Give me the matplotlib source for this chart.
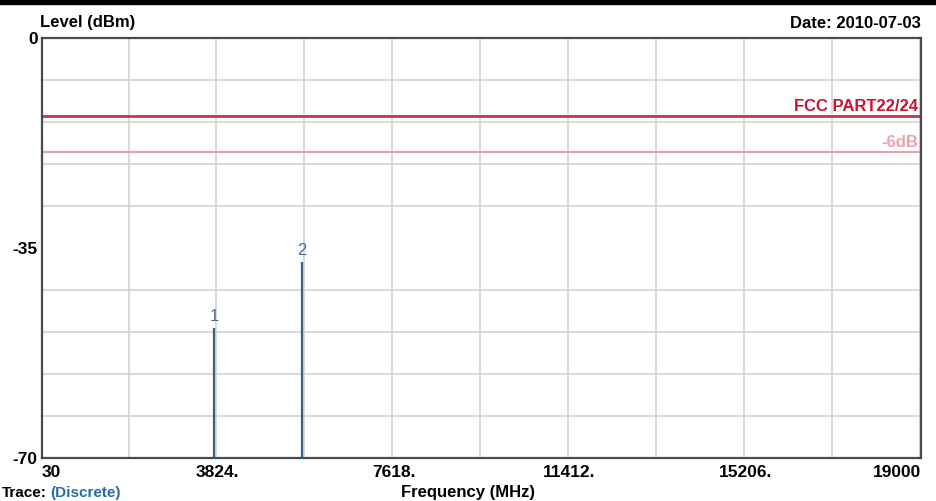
import matplotlib.pyplot as plt
from matplotlib.ticker import MultipleLocator

# --- данные ---
x_min, x_max = 30, 19000
y_min, y_max = -70, 0
x_tick_labels = ['30', '3824.', '7618.', '11412.', '15206.', '19000']
y_tick_labels = ['-70', '-35', '0']

peak_freq = [3740, 5640]      # MHz
peak_level = [-48.3, -37.3]   # dBm
peak_names = ['1', '2']

limit_level = -13.0           # FCC PART22/24
margin_level = -19.0          # -6dB

plt.rcParams['font.family'] = ['Liberation Sans', 'DejaVu Sans']

fig = plt.figure(figsize=(9.37, 5.01), dpi=100)
ax = fig.add_axes([42 / 937, 43 / 501, 879 / 937, 420 / 501])

ax.set_xlim(x_min, x_max)
ax.set_ylim(y_min, y_max)

# сетка
ax.xaxis.set_minor_locator(MultipleLocator((x_max - x_min) / 10))
ax.yaxis.set_minor_locator(MultipleLocator(7))
ax.grid(which='minor', color='#d2d2d2', lw=1.2)
ax.set_axisbelow(True)

x_ticks = [x_min + i * (x_max - x_min) / 5 for i in range(6)]
ax.set_xticks(x_ticks)
ax.set_xticklabels(x_tick_labels)
ax.set_yticks([y_min, -35, y_max])
ax.set_yticklabels(y_tick_labels)
ax.tick_params(which='both', length=0)
ax.tick_params(labelsize=12.5, pad=5)
ax.tick_params(axis='y', pad=3)
for lab in ax.get_xticklabels() + ax.get_yticklabels():
    lab.set_fontweight('bold')
for i, lab in enumerate(ax.get_xticklabels()):
    if i == 0:
        lab.set_horizontalalignment('left')
    elif i == len(x_tick_labels) - 1:
        lab.set_horizontalalignment('right')

for s in ax.spines.values():
    s.set_color('#4a4a4a')
    s.set_linewidth(1.6)

# линии лимитов
ax.axhline(limit_level, color='#c0394e', lw=2.0)
ax.axhline(margin_level, color='#eaa0ae', lw=1.5)
ax.text(x_max - 60, limit_level + 0.4, 'FCC PART22/24', color='#cc1133',
        fontsize=12, fontweight='bold', ha='right', va='bottom')
ax.text(x_max - 60, margin_level + 0.4, '-6dB', color='#f0a0ae',
        fontsize=12, fontweight='bold', ha='right', va='bottom')

# пики
ax.vlines(peak_freq, y_min, peak_level, color='#3f5f80', lw=1.6)
for f, lv, nm in zip(peak_freq, peak_level, peak_names):
    ax.text(f, lv + 0.6, nm, color='#4a6a8a', fontsize=12,
            ha='center', va='bottom')

# подписи
fig.text(40 / 937, 1 - 23 / 501, 'Level (dBm)', fontsize=12,
         fontweight='bold', ha='left', va='center')
fig.text(921 / 937, 1 - 23 / 501, 'Date: 2010-07-03', fontsize=12,
         fontweight='bold', ha='right', va='center')
fig.text(0.5, 1 - 492 / 501, 'Frequency (MHz)', fontsize=12,
         fontweight='bold', ha='center', va='center')
fig.text(2 / 937, 1 / 501, 'Trace:', fontsize=11, fontweight='bold',
         ha='left', va='bottom')
fig.text(50 / 937, 1 / 501, '(Discrete)', fontsize=11, fontweight='bold',
         color='#2a6aa8', ha='left', va='bottom')

# чёрная полоса сверху
fig.patches.append(plt.Rectangle((0, 1 - 4 / 501), 1, 4 / 501,
                                 transform=fig.transFigure, color='black'))

fig.savefig('out.png', dpi=100)
